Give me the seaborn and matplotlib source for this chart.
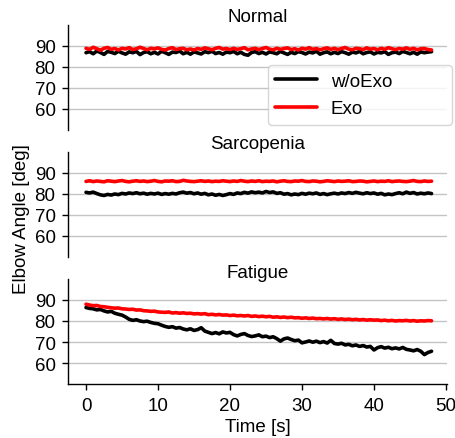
import numpy as np
import pandas as pd
import matplotlib
matplotlib.use("Agg")
import matplotlib.pyplot as plt
import seaborn as sns

# sample clock: 0.5 s steps from 0 to 48 s
time_s = np.arange(97) * 0.5

conditions = ["Normal", "Sarcopenia", "Fatigue"]
series_names = ["w/oExo", "Exo"]

normal_woexo = [
    86.8, 87.3, 86.3, 87.6, 86.9, 86.0, 87.4, 87.0, 86.4, 87.5,
    86.7, 86.1, 87.2, 86.8, 87.4, 85.9, 86.9, 87.3, 86.3, 87.0,
    86.2, 87.5, 86.8, 86.0, 87.1, 86.9, 87.6, 86.3, 87.0, 86.1,
    87.2, 86.7, 86.2, 87.3, 86.8, 87.5, 86.4, 86.9, 86.1, 87.1,
    86.8, 87.4, 86.3, 87.0, 86.0, 85.6, 86.9, 87.3, 86.4, 87.0,
    86.2, 87.2, 86.8, 86.3, 87.4, 86.7, 86.0, 87.0, 86.4, 87.3,
    86.9, 86.2, 87.1, 86.7, 87.5, 86.1, 86.8, 87.2, 86.3, 87.0,
    86.4, 87.3, 86.8, 86.1, 87.1, 86.7, 87.4, 86.3, 86.9, 87.2,
    86.2, 87.0, 86.7, 87.3, 86.0, 86.8, 87.1, 86.4, 87.4, 86.9,
    86.3, 87.0, 86.1, 87.2, 86.8, 87.1, 87.3]
normal_exo = [
    88.9, 88.4, 89.4, 88.7, 88.0, 88.9, 89.3, 88.4, 88.8, 88.1,
    88.9, 88.6, 89.2, 88.3, 88.7, 89.4, 88.8, 88.2, 88.9, 88.6,
    89.1, 88.4, 88.1, 88.8, 89.2, 88.3, 88.7, 88.9, 88.2, 88.6,
    88.1, 88.8, 88.4, 89.1, 88.7, 88.2, 88.9, 89.3, 88.5, 88.8,
    88.3, 88.9, 88.4, 88.7, 89.2, 88.2, 88.6, 88.9, 88.3, 88.8,
    89.3, 88.5, 88.2, 88.9, 88.4, 88.8, 89.1, 88.3, 88.7, 88.1,
    88.9, 88.5, 89.2, 88.4, 88.8, 88.2, 88.7, 89.1, 88.4, 88.9,
    88.3, 88.8, 89.3, 88.5, 88.2, 88.9, 88.7, 88.3, 89.1, 88.5,
    88.8, 88.2, 88.9, 88.4, 89.2, 88.7, 88.3, 88.8, 88.5, 89.1,
    88.4, 88.9, 88.2, 88.7, 88.8, 88.3, 88.1]

sarco_woexo = [
    80.8, 80.5, 80.9, 80.2, 79.6, 79.3, 79.8, 79.5, 80.0, 79.7,
    80.3, 80.0, 80.5, 80.2, 80.6, 80.1, 80.4, 79.9, 80.3, 80.0,
    80.4, 79.8, 80.2, 79.9, 80.3, 80.0, 80.6, 80.9, 80.4, 80.7,
    80.1, 80.5, 79.9, 80.3, 79.6, 80.0, 79.4, 79.8, 79.3, 79.7,
    80.2, 79.8, 80.5, 80.2, 80.8, 80.4, 81.0, 80.6, 80.9, 80.5,
    81.2, 80.7, 81.0, 80.3, 80.6, 79.9, 80.2, 79.6, 80.0, 79.7,
    80.3, 79.9, 80.4, 80.1, 80.5, 79.8, 80.2, 79.7, 80.1, 80.4,
    80.0, 80.5, 80.2, 80.7, 80.3, 80.8, 80.4, 80.1, 80.6, 80.2,
    80.5, 79.9, 80.3, 79.6, 80.0, 79.7, 80.2, 80.6, 80.1, 80.9,
    80.3, 80.7, 80.0, 80.4, 80.1, 80.5, 80.2]
sarco_exo = [
    86.0, 86.3, 85.9, 86.2, 86.0, 85.8, 86.3, 86.1, 85.9, 86.2,
    86.4, 86.0, 85.8, 86.1, 86.3, 86.0, 86.2, 85.9, 86.1, 86.4,
    86.0, 85.8, 86.2, 86.1, 86.3, 85.9, 86.0, 86.5, 86.2, 86.0,
    85.9, 86.1, 86.3, 86.0, 86.2, 85.9, 86.1, 86.0, 86.3, 86.1,
    85.9, 86.2, 86.0, 86.4, 86.1, 85.9, 86.2, 86.0, 86.3, 85.9,
    86.1, 86.0, 86.2, 85.8, 86.1, 86.3, 86.0, 85.9, 86.2, 86.1,
    86.4, 86.0, 85.9, 86.2, 86.1, 85.8, 86.0, 86.3, 86.1, 85.9,
    86.2, 86.0, 86.1, 86.3, 85.9, 86.0, 86.2, 86.1, 85.8, 86.0,
    86.2, 85.9, 86.1, 86.0, 86.3, 85.9, 86.1, 86.2, 86.0, 85.9,
    86.1, 86.4, 86.0, 85.9, 86.2, 86.0, 86.1]

fatigue_woexo = [
    86.4, 86.0, 85.8, 85.3, 85.5, 84.8, 84.3, 84.6, 83.7, 83.2,
    82.8, 81.9, 80.8, 80.3, 80.6, 80.0, 79.7, 79.9, 79.3, 78.9,
    78.7, 78.0, 77.4, 77.0, 77.3, 76.6, 76.9, 76.2, 75.8, 76.3,
    75.5, 75.9, 76.8, 75.2, 74.6, 74.0, 74.5, 73.9, 74.8, 74.3,
    74.6, 73.5, 72.9, 73.6, 74.0, 73.1, 72.6, 72.9, 73.4, 72.5,
    72.8, 72.1, 72.5, 71.6, 70.4, 71.5, 71.9, 71.2, 70.6, 70.9,
    69.6, 70.0, 70.5, 69.9, 70.4, 69.7, 70.2, 69.5, 70.8, 69.3,
    69.0, 69.4, 68.6, 68.9, 68.2, 68.6, 67.9, 68.3, 67.6, 67.9,
    66.2, 67.3, 67.8, 67.1, 67.5, 66.8, 67.2, 66.7, 67.4, 66.5,
    66.2, 65.8, 66.4, 65.6, 64.0, 65.0, 65.6]
fatigue_exo = [
    88.0, 87.6, 87.3, 87.4, 86.9, 86.8, 86.5, 86.3, 86.1, 86.2,
    85.8, 85.7, 85.5, 85.6, 85.2, 85.3, 84.9, 84.8, 84.6, 84.7,
    84.3, 84.2, 84.1, 84.3, 83.8, 84.0, 83.7, 83.9, 83.6, 83.7,
    83.4, 83.5, 83.3, 83.5, 83.0, 83.2, 82.9, 83.1, 82.8, 82.9,
    82.6, 82.8, 82.5, 82.6, 82.4, 82.6, 82.2, 82.4, 82.1, 82.3,
    82.0, 82.2, 81.8, 82.0, 81.7, 81.9, 81.6, 81.8, 81.5, 81.6,
    81.3, 81.5, 81.2, 81.4, 81.1, 81.2, 81.0, 81.2, 80.9, 81.1,
    80.8, 81.0, 80.7, 80.9, 80.6, 80.8, 80.5, 80.7, 80.4, 80.6,
    80.4, 80.5, 80.2, 80.4, 80.1, 80.3, 80.0, 80.2, 80.1, 80.3,
    80.0, 80.2, 79.9, 80.1, 80.0, 80.2, 80.1]

data_by_condition = {
    "Normal": (normal_woexo, normal_exo),
    "Sarcopenia": (sarco_woexo, sarco_exo),
    "Fatigue": (fatigue_woexo, fatigue_exo),
}

y_ticks = [60, 70, 80, 90]
x_ticks = [0, 10, 20, 30, 40, 50]

rows = []
for cond in conditions:
    wo, ex = data_by_condition[cond]
    for name, vals in zip(series_names, (wo, ex)):
        for t, v in zip(time_s, vals):
            rows.append({"cond": cond, "series": name, "time": t, "angle": v})
df = pd.DataFrame(rows)

FS = 13.5
sns.set_style("white")
plt.rcParams["font.family"] = ["Liberation Sans", "DejaVu Sans"]
plt.rcParams["font.size"] = FS
plt.rcParams["text.color"] = "black"
plt.rcParams["axes.labelcolor"] = "black"
plt.rcParams["xtick.color"] = "black"
plt.rcParams["ytick.color"] = "black"

fig, axes = plt.subplots(3, 1, figsize=(4.55, 4.39), dpi=100, sharex=True)
fig.subplots_adjust(left=0.1495, right=0.9833, top=0.9408, bottom=0.123, hspace=0.2095)

palette = {"w/oExo": "black", "Exo": "red"}
for i, (ax, cond) in enumerate(zip(axes, conditions)):
    sub = df[df["cond"] == cond]
    sns.lineplot(data=sub, x="time", y="angle", hue="series", palette=palette,
                 hue_order=series_names, linewidth=2.6, ax=ax, legend=(i == 0))
    ax.set_ylim(50, 100)
    ax.set_xlim(-2.5, 50.2)
    ax.set_yticks(y_ticks)
    ax.yaxis.grid(True, color="#c4c4c4", linewidth=1.0)
    ax.xaxis.grid(False)
    ax.set_axisbelow(True)
    ax.set_title(cond, fontsize=FS, pad=1.5)
    ax.set_xlabel("")
    ax.set_ylabel("")
    ax.tick_params(axis="y", left=True, length=4, width=1, color="black",
                   labelsize=FS, pad=5)
    for s in ["top", "right"]:
        ax.spines[s].set_visible(False)
    ax.spines["left"].set_color("black")
    ax.spines["left"].set_linewidth(1.0)
    if i < 2:
        ax.spines["bottom"].set_visible(False)
        ax.tick_params(axis="x", bottom=False, labelbottom=False)
    else:
        ax.spines["bottom"].set_color("black")
        ax.spines["bottom"].set_linewidth(1.0)
        ax.set_xticks(x_ticks)
        ax.tick_params(axis="x", bottom=True, length=4, width=1, color="black",
                       labelsize=FS, pad=5.5)
        ax.set_xlabel("Time [s]", fontsize=FS, labelpad=3)

leg = axes[0].legend(title=None, loc="lower left", fontsize=FS,
                     handlelength=2.2, handletextpad=0.75, labelspacing=0.55,
                     mode="expand",
                     bbox_to_anchor=(0.527, 0.048, 0.485, 0.59), borderaxespad=0.0)
for line in leg.get_lines():
    line.set_linewidth(2.6)

axes[1].set_ylabel("Elbow Angle [deg]", fontsize=FS)
axes[1].yaxis.set_label_coords(-0.101, 0.37)

fig.savefig("out.png", dpi=100)
